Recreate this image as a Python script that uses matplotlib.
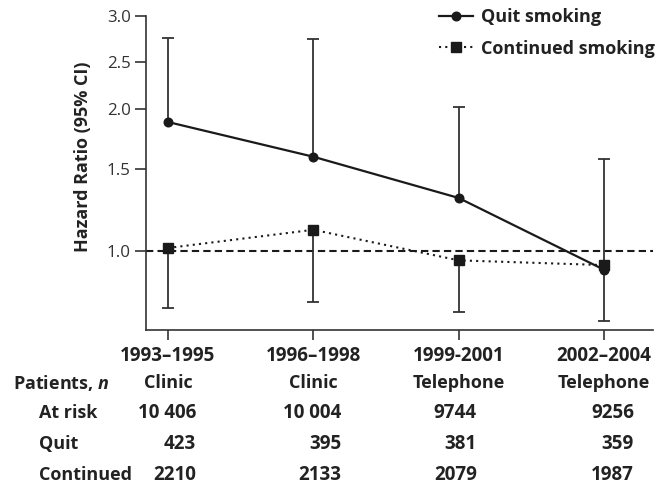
import numpy as np
import matplotlib
matplotlib.use("Agg")
import matplotlib.pyplot as plt
from matplotlib.lines import Line2D
from matplotlib.transforms import blended_transform_factory, ScaledTranslation

# ---- data -------------------------------------------------------------
periods = ["1993–1995", "1996–1998", "1999-2001", "2002–2004"]
settings = ["Clinic", "Clinic", "Telephone", "Telephone"]
at_risk = [10406, 10004, 9744, 9256]
quit_n = [423, 395, 381, 359]
continued_n = [2210, 2133, 2079, 1987]

hr_quit = [1.88, 1.59, 1.30, 0.914]
ci_quit_upper = [2.75, 2.74, 2.02, 1.57]
hr_cont = [1.017, 1.112, 0.957, 0.935]
ci_cont_lower = [0.758, 0.779, 0.742, 0.712]

y_ticks = [1.0, 1.5, 2.0, 2.5, 3.0]

# ---- axis scale: hazard-ratio axis with hand-set tick spacing ----------
scale_values = np.log([0.4, 0.68, 1.0, 1.5, 2.0, 2.5, 3.0, 4.5])
scale_heights = -np.array([438.0, 330.4, 251.7, 169.0, 109.3, 62.3, 16.0, -87.0])


def fwd(v):
    v = np.clip(np.asarray(v, dtype=float), 1e-6, None)
    return np.interp(np.log(v), scale_values, scale_heights)


def inv(h):
    return np.exp(np.interp(np.asarray(h, dtype=float), scale_heights, scale_values))


# ---- style ------------------------------------------------------------
FONT = ["Open Sans", "DejaVu Sans"]
plt.rcParams["font.family"] = FONT
plt.rcParams["mathtext.fontset"] = "custom"
plt.rcParams["mathtext.it"] = "Open Sans:italic:bold"
plt.rcParams["mathtext.rm"] = "Open Sans:bold"

INK = "#1a1a1a"
AXC = "#333333"
TXT = "#222222"
FS = 13
FS_NUM = 13.5

fig = plt.figure(figsize=(6.65, 4.87), dpi=100)
W, H = 665, 487
ax = fig.add_axes([146 / W, 1 - 330 / H, (653 - 146) / W, (330 - 16) / H])

x = np.arange(len(periods))

ax.set_yscale("function", functions=(fwd, inv))
ax.set_ylim(0.68, 3.0)
ax.set_xlim(-0.151, 3.337)

# reference line at HR = 1
ax.axhline(1.0, color=INK, lw=1.5, linestyle=(0, (3.5, 2)), zorder=1)

# confidence limits (upper for quitters, lower for continuing smokers)
ax.vlines(x, hr_quit, ci_quit_upper, color=AXC, lw=1.3, zorder=2)
ax.plot(x, ci_quit_upper, linestyle="none", marker="_", ms=9, mew=1.3,
        color=AXC, zorder=2)
ax.vlines(x, ci_cont_lower, hr_cont, color=AXC, lw=1.3, zorder=2)
ax.plot(x, ci_cont_lower, linestyle="none", marker="_", ms=9, mew=1.3,
        color=AXC, zorder=2)

# series
ax.plot(x, hr_quit, color=INK, lw=1.6, marker="o", ms=6.2, zorder=4)
ax.plot(x, hr_cont, color=INK, lw=1.5, linestyle=(0, (1, 2)),
        marker="s", ms=7, zorder=4)

# axes styling
for side in ("top", "right"):
    ax.spines[side].set_visible(False)
for side in ("left", "bottom"):
    ax.spines[side].set_color(AXC)
    ax.spines[side].set_linewidth(1.2)

ax.set_yticks(y_ticks)
ax.set_yticklabels([f"{t:.1f}" for t in y_ticks])
ax.yaxis.set_minor_locator(matplotlib.ticker.NullLocator())
ax.tick_params(axis="y", length=8, width=1.2, color=AXC, pad=3,
               labelsize=12.2, labelcolor="#333333")
ax.set_xticks(x)
ax.set_xticklabels(periods, fontweight="bold")
ax.tick_params(axis="x", length=7.5, width=1.2, color=AXC, pad=4,
               labelsize=FS_NUM, labelcolor=TXT)

fig.text(83 / W, 1 - 157 / H, "Hazard Ratio (95% CI)", rotation=90,
         ha="center", va="center", fontsize=FS, fontweight="bold",
         color=TXT)

# legend
handles = [
    Line2D([], [], color=INK, lw=1.6, marker="o", ms=6.2),
    Line2D([], [], color=INK, lw=1.5, linestyle=(0, (1, 2)), marker="s", ms=7),
]
leg = fig.legend(handles, ["Quit smoking", "Continued smoking"],
                 loc="upper left", bbox_to_anchor=(439 / W, 1 - 8 / H),
                 frameon=False, borderpad=0, borderaxespad=0,
                 handlelength=1.9, handletextpad=0.4, labelspacing=0.75,
                 numpoints=1, prop={"size": FS, "weight": "bold"})
for t in leg.get_texts():
    t.set_color(TXT)

# patient table below the axis
row_tf = blended_transform_factory(ax.transData, fig.transFigure)
row_y = {"header": 1 - 383 / H, "risk": 1 - 413 / H,
         "quit": 1 - 444 / H, "cont": 1 - 475 / H}
num_right_px = [28, 28, 18, 30]

fig.text(13 / W, row_y["header"], r"Patients, $\mathit{n}$", ha="left",
         va="center", fontsize=FS, fontweight="bold", color=TXT)
for key, label in (("risk", "At risk"), ("quit", "Quit"), ("cont", "Continued")):
    fig.text(39 / W, row_y[key], label, ha="left", va="center",
             fontsize=FS, fontweight="bold", color=TXT)


def fmt(n):
    # thousands are split by a space only in five-digit counts
    return f"{n:,}".replace(",", " ") if n >= 10000 else str(n)


for i in range(len(periods)):
    ax.text(x[i], row_y["header"], settings[i], transform=row_tf,
            ha="center", va="center", fontsize=FS, fontweight="bold",
            color=TXT)
    off = row_tf + ScaledTranslation(num_right_px[i] / 100, 0, fig.dpi_scale_trans)
    for key, vals in (("risk", at_risk), ("quit", quit_n), ("cont", continued_n)):
        ax.text(x[i], row_y[key], fmt(vals[i]), transform=off,
                ha="right", va="center", fontsize=FS_NUM, fontweight="bold",
                color=TXT)

fig.savefig("out.png", dpi=100)
